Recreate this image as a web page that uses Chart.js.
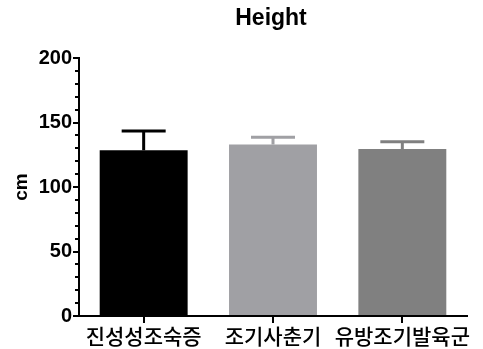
<!DOCTYPE html>
<html>
<head>
<meta charset="utf-8">
<script src="https://cdn.jsdelivr.net/npm/chart.js@4"></script>
<style>
  html, body { margin: 0; padding: 0; background: #fff; }
  #wrap { width: 483px; height: 349px; }
</style>
</head>
<body>
<div id="wrap"><canvas id="heightChart" width="483" height="349"></canvas></div>
<script>
// values
const groups = ['진성성조숙증', '조기사춘기', '유방조기발육군'];
const meanHeight = [128.5, 133, 129.5];
const sdHeight = [15, 5.5, 5.5];
const barColors = ['#000000', '#a0a0a4', '#808080'];
const yTicks = [0, 50, 100, 150, 200];

// upward-only error bars with a cap, like the Prism original
const errorBars = {
    id: 'errorBars',
    afterDatasetsDraw(chart) {
        const ctx = chart.ctx;
        const meta = chart.getDatasetMeta(0);
        const y = chart.scales.y;
        ctx.save();
        ctx.lineWidth = 3;
        meta.data.forEach((bar, i) => {
            const top = y.getPixelForValue(meanHeight[i] + sdHeight[i]);
            ctx.strokeStyle = barColors[i];
            ctx.beginPath();
            ctx.moveTo(bar.x, bar.y);
            ctx.lineTo(bar.x, top);
            ctx.moveTo(bar.x - 22, top);
            ctx.lineTo(bar.x + 22, top);
            ctx.stroke();
        });
        ctx.restore();
    }
};

// minor ticks every 10 on the y axis + the title
const extras = {
    id: 'extras',
    afterDraw(chart) {
        const ctx = chart.ctx;
        const y = chart.scales.y;
        const left = chart.chartArea.left;
        ctx.save();
        ctx.strokeStyle = '#000';
        ctx.lineWidth = 2;
        for (let v = 10; v < 200; v += 10) {
            if (v % 50 === 0) continue;
            const py = Math.round(y.getPixelForValue(v));
            ctx.beginPath();
            ctx.moveTo(left - 4, py);
            ctx.lineTo(left, py);
            ctx.stroke();
        }
        ctx.fillStyle = '#000';
        ctx.font = 'bold 23px Arial, "Liberation Sans"';
        ctx.textAlign = 'center';
        ctx.textBaseline = 'middle';
        ctx.fillText('Height', (chart.chartArea.left + chart.chartArea.right) / 2 - 2, 19);
        ctx.restore();
    }
};

new Chart(document.getElementById('heightChart'), {
    type: 'bar',
    data: {
        labels: groups,
        datasets: [{
            data: meanHeight,
            backgroundColor: barColors,
            borderWidth: 0,
            barPercentage: 0.68,
            categoryPercentage: 1
        }]
    },
    options: {
        responsive: false,
        animation: false,
        layout: { padding: { left: 0, top: 58, right: 16, bottom: 0 } },
        plugins: { legend: { display: false }, tooltip: { enabled: false } },
        scales: {
            x: {
                grid: { drawOnChartArea: false, offset: false, tickLength: 7, color: '#000', lineWidth: 2 },
                border: { color: '#000', width: 2 },
                ticks: {
                    color: '#000',
                    padding: 0,
                    maxRotation: 0,
                    autoSkip: false,
                    font: { family: '"Noto Sans CJK KR"', size: 21, weight: '500' }
                },
                afterFit(scale) { scale.height = 33; }
            },
            y: {
                min: 0,
                max: 200,
                afterBuildTicks(scale) { scale.ticks = yTicks.map(v => ({ value: v })); },
                grid: { drawOnChartArea: false, tickLength: 6, color: '#000', lineWidth: 2 },
                border: { color: '#000', width: 2 },
                ticks: {
                    color: '#000',
                    padding: 1,
                    font: { family: 'Arial, "Liberation Sans"', size: 20, weight: 'bold' }
                },
                title: {
                    display: true,
                    text: 'cm',
                    color: '#000',
                    padding: { top: 10, bottom: 0 },
                    font: { family: 'Arial, "Liberation Sans"', size: 19, weight: 'bold' }
                },
                afterFit(scale) { scale.width = 79; }
            }
        }
    },
    plugins: [errorBars, extras]
});
</script>
</body>
</html>
